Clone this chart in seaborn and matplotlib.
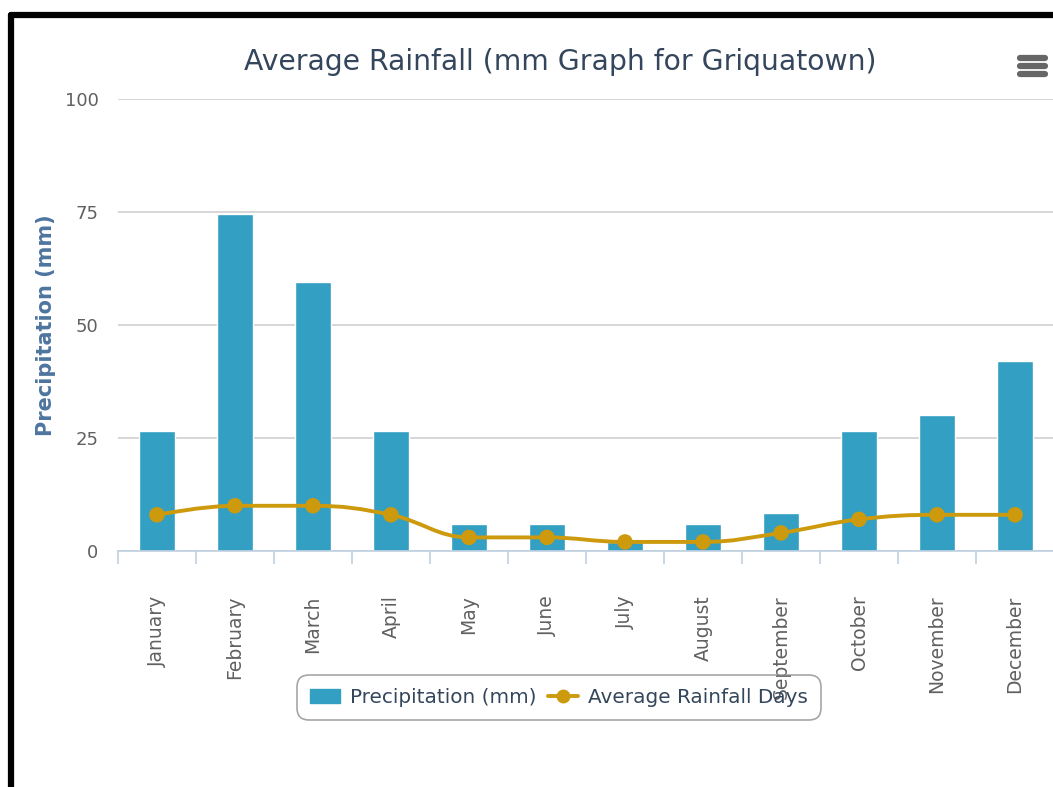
import numpy as np
import pandas as pd
import matplotlib
matplotlib.use("Agg")
import matplotlib.pyplot as plt
import seaborn as sns
from matplotlib.path import Path
from matplotlib.patches import PathPatch, Patch
from matplotlib.lines import Line2D

# chart data
months = ["January", "February", "March", "April", "May", "June", "July",
          "August", "September", "October", "November", "December"]
precipitation = [26.5, 74.5, 59.5, 26.5, 6, 6, 2, 6, 8.5, 26.5, 30, 42]
rain_days = [8, 10, 10, 8, 3, 3, 2, 2, 4, 7, 8, 8]
y_ticks = [0, 25, 50, 75, 100]

BAR = "#339fc3"
LINE = "#cc9a0c"
GRAY = "#606060"


def spline_path(xs, ys, smoothing=1.5):
    # highcharts style spline: bezier control points from neighbours
    denom = smoothing + 1
    n = len(xs)
    left, right = [None] * n, [None] * n
    for i in range(1, n - 1):
        lx, ly = xs[i - 1], ys[i - 1]
        nx, ny = xs[i + 1], ys[i + 1]
        px, py = xs[i], ys[i]
        lcx = (smoothing * px + lx) / denom
        lcy = (smoothing * py + ly) / denom
        rcx = (smoothing * px + nx) / denom
        rcy = (smoothing * py + ny) / denom
        corr = (rcy - lcy) * (rcx - px) / (rcx - lcx) + py - rcy
        lcy += corr
        rcy += corr
        if lcy > max(ly, py):
            lcy = max(ly, py); rcy = 2 * py - lcy
        elif lcy < min(ly, py):
            lcy = min(ly, py); rcy = 2 * py - lcy
        if rcy > max(py, ny):
            rcy = max(py, ny); lcy = 2 * py - rcy
        elif rcy < min(py, ny):
            rcy = min(py, ny); lcy = 2 * py - rcy
        left[i], right[i] = (lcx, lcy), (rcx, rcy)
    verts = [(xs[0], ys[0])]
    codes = [Path.MOVETO]
    for i in range(1, n):
        c1 = right[i - 1] if right[i - 1] else (xs[i - 1], ys[i - 1])
        c2 = left[i] if left[i] else (xs[i], ys[i])
        verts += [c1, c2, (xs[i], ys[i])]
        codes += [Path.CURVE4] * 3
    return Path(verts, codes)


df = pd.DataFrame({"month": months, "precip": precipitation, "days": rain_days})

sns.set_theme(style="white")
plt.rcParams["font.family"] = ["DejaVu Sans"]

fig = plt.figure(figsize=(10.53, 7.87), dpi=100)
ax = fig.add_axes([0.112, 0.2999, 0.889, 0.5743])

sns.barplot(data=df, x="month", y="precip", color=BAR, width=0.46,
            saturation=1, ax=ax, zorder=2)
ax.add_patch(PathPatch(spline_path(list(range(12)), rain_days), fill=False,
                       edgecolor=LINE, lw=2.8, zorder=3))
sns.scatterplot(x=np.arange(12), y=df["days"], color=LINE, s=125,
                edgecolor="none", ax=ax, zorder=4)

ax.set_xlim(-0.5, 11.5)
ax.set_ylim(0, 100)
ax.set_yticks(y_ticks)
ax.set_yticklabels([str(t) for t in y_ticks], color=GRAY, fontsize=13)
ax.yaxis.grid(True, color="#d0d0d0", lw=1.2, zorder=0)
ax.tick_params(axis="y", length=0, pad=14)
ax.set_xticks(np.arange(12))
ax.set_xticklabels(months, rotation=90, color=GRAY, fontsize=13.5,
                   va="top", ha="center")
ax.tick_params(axis="x", which="major", length=0, pad=32)
# boundary ticks
ax.set_xticks(np.arange(-0.5, 12, 1), minor=True)
ax.tick_params(axis="x", which="minor", bottom=True, length=9,
               color="#c0d0e0", width=1.2, direction="out")
for s in ["top", "right", "left"]:
    ax.spines[s].set_visible(False)
ax.spines["bottom"].set_color("#c0d0e0")
ax.spines["bottom"].set_linewidth(1.2)
ax.set_xlabel("")
ax.set_ylabel("Precipitation (mm)", color="#4d759e", fontsize=15,
              fontweight="bold", labelpad=6)

fig.text(0.532, 0.921, "Average Rainfall (mm Graph for Griquatown)",
         ha="center", va="center", fontsize=20.3, color="#34465c")

handles = [Patch(facecolor=BAR, edgecolor=BAR),
           Line2D([0], [0], color=LINE, lw=2.8, marker="o", markersize=9)]
leg = fig.legend(handles, ["Precipitation (mm)", "Average Rainfall Days"],
                 loc="center", bbox_to_anchor=(0.531, 0.114), ncol=2,
                 frameon=True, fontsize=14.4, handlelength=1.5,
                 columnspacing=0.6, handletextpad=0.5, borderpad=0.45)
leg.get_frame().set_edgecolor("#909090")
leg.get_frame().set_facecolor("none")
leg.get_frame().set_linewidth(1.2)
leg.get_frame().set_boxstyle("round,pad=0.2,rounding_size=0.6")
for t in leg.get_texts():
    t.set_color("#34465c")

# menu icon
for yy in [0.906, 0.916, 0.926]:
    fig.add_artist(Line2D([0.969, 0.992], [yy, yy], color="#666666", lw=4.5,
                          solid_capstyle="round", transform=fig.transFigure))

# black frame
fig.add_artist(Line2D([0.0105, 1.0], [0.981, 0.981], color="black", lw=4.5,
                      transform=fig.transFigure))
fig.add_artist(Line2D([0.0105, 0.0105], [0.0, 0.981], color="black", lw=4.5,
                      transform=fig.transFigure))

fig.savefig("out.png", dpi=100)
